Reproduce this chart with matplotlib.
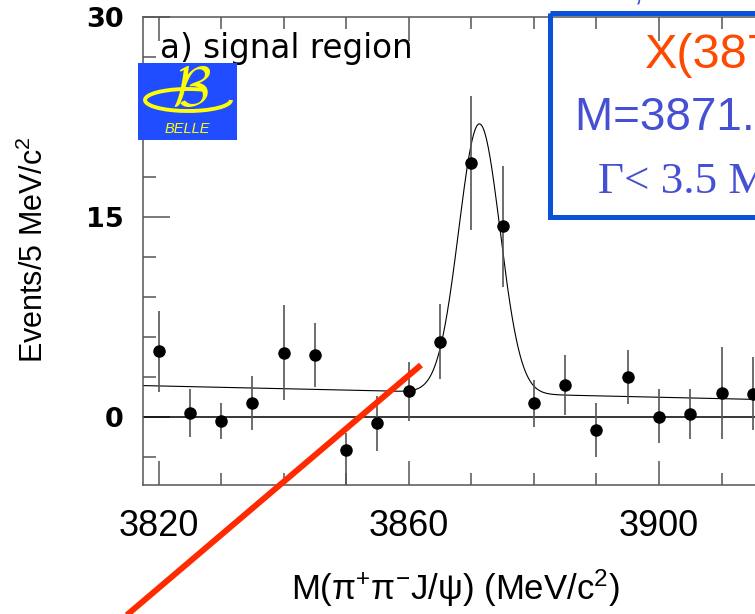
import numpy as np
import matplotlib
matplotlib.use("Agg")
import matplotlib.pyplot as plt
from matplotlib.patches import Rectangle, Arc
from matplotlib.ticker import MultipleLocator

# ---------------- data ----------------
mass = [3820, 3825, 3830, 3835, 3840, 3845, 3850, 3855, 3860, 3865,
        3870, 3875, 3880, 3885, 3890, 3895, 3900, 3905, 3910, 3915]
events = [4.96, 0.32, -0.27, 1.02, 4.83, 4.66, -2.47, -0.47, 1.94, 5.63,
          19.05, 14.3, 1.02, 2.39, -0.97, 3.01, 0.02, 0.22, 1.82, 1.72]
err_low = [3.05, 1.8, 1.35, 2.0, 3.55, 2.4, 2.8, 2.05, 2.25, 2.75,
           5.05, 4.55, 1.75, 2.25, 2.0, 2.05, 2.0, 1.9, 3.45, 2.7]
err_high = [3.0, 1.8, 1.35, 2.05, 3.55, 2.4, 1.3, 2.05, 2.2, 2.85,
            5.05, 4.5, 1.75, 2.25, 2.05, 2.05, 2.05, 1.85, 3.4, 2.75]

# fit model parameters (Gaussian signal on a linear background)
fit_mass = 3871.3
fit_sigma = 3.3
fit_amp = 20.2
bg_at_3820 = 2.33
bg_slope = -0.0106

x_major_ticks = [3820, 3860, 3900]
x_tick_labels = ["3820", "3860", "3900"]
y_major_ticks = [0, 15, 30]
y_tick_labels = ["0", "15", "30"]

# ---------------- fonts ----------------
plt.rcParams["mathtext.fontset"] = "custom"
plt.rcParams["mathtext.rm"] = "Liberation Sans"
plt.rcParams["mathtext.it"] = "Liberation Sans:italic"
plt.rcParams["mathtext.bf"] = "Liberation Sans:bold"

W, H = 755, 614
fig = plt.figure(figsize=(W / 100, H / 100), dpi=100)
fig.patch.set_facecolor("white")

# axes geometry (pixels)
ax_left, ax_top, ax_bottom, ax_right = 143, 17, 485, 800
px_per_mev = (659 - 158.5) / 80.0
x_lo = 3820 - (158.5 - ax_left) / px_per_mev
x_hi = 3820 + (ax_right - 158.5) / px_per_mev

ax = fig.add_axes([ax_left / W, 1 - ax_bottom / H,
                   (ax_right - ax_left) / W, (ax_bottom - ax_top) / H])
ax.set_xlim(x_lo, x_hi)
ax.set_ylim(-5.1, 30)

gray = "#555555"
ax.axhline(0, color="black", lw=1.1, zorder=2)

m = np.linspace(x_lo, x_hi, 1500)
curve = bg_at_3820 + bg_slope * (m - 3820) + fit_amp * np.exp(-0.5 * ((m - fit_mass) / fit_sigma) ** 2)
ax.plot(m, curve, color="black", lw=0.8, zorder=2)

ax.errorbar(mass, events, yerr=[err_low, err_high], fmt="o", color="black",
            ms=8, ecolor=gray, elinewidth=1.2, capsize=0, zorder=3)

for s in ax.spines.values():
    s.set_color(gray)
    s.set_linewidth(1.1)

ax.set_xticks(x_major_ticks, labels=x_tick_labels, fontsize=26, fontfamily="Liberation Sans")
ax.set_yticks(y_major_ticks, labels=y_tick_labels, fontsize=19.5, fontfamily="DejaVu Sans",
              fontweight="bold")
ax.xaxis.set_minor_locator(MultipleLocator(10))
ax.yaxis.set_minor_locator(MultipleLocator(3))
ax.tick_params(which="both", direction="in", top=True, right=True, color=gray, width=1.1)
ax.tick_params(axis="x", which="major", length=17, pad=17)
ax.tick_params(axis="x", which="minor", length=8.5)
ax.tick_params(axis="y", which="major", length=19.5, pad=14)
ax.tick_params(axis="y", which="minor", length=9.5)

# axis titles
fig.text(34 / W, 1 - 250 / H, r"Events/5 MeV/c$^{2}$", rotation=90, ha="center", va="center",
         fontsize=22, family="Liberation Sans")
fig.text(455 / W, 1 - 600 / H, "M(\u03c0$^{+}$\u03c0$^{-}$J/\u03c8) (MeV/c$^{2}$)", ha="center",
         va="baseline", fontsize=25, family="Liberation Sans")

# ---------------- overlay (annotations in pixel coordinates) ----------------
ov = fig.add_axes([0, 0, 1, 1], zorder=5)
ov.set_xlim(0, W)
ov.set_ylim(H, 0)
ov.axis("off")

ov.text(160, 58, "a) signal region", fontsize=23.5, family="DejaVu Sans", va="baseline")

ov.plot([121, 421], [620, 365], color="#ff2a00", lw=4.3, solid_capstyle="butt")

ov.add_patch(Rectangle((550, 13), 400, 204, fill=False, edgecolor="#0a50d8", lw=3.6))
ov.text(645, 68, "X(3872)", color="#ff4800", fontsize=35, family="Liberation Sans", va="baseline")
ov.text(575, 130, "M=3871.8 MeV", color="#4650d2", fontsize=33, family="Liberation Sans",
        va="baseline")
ov.text(598, 193, "\u0393< 3.5 MeV", color="#4650d2", fontsize=32.5, family="Liberation Serif",
        va="baseline")
ov.text(560, 0, "Belle, PRL 91, 262001", color="#4650d2", fontsize=24, family="Liberation Sans",
        va="baseline")

# ---------------- Belle logo ----------------
la = fig.add_axes([138 / W, 1 - 140 / H, 99 / W, 77 / H], zorder=6)
la.set_xlim(0, 99)
la.set_ylim(77, 0)
la.axis("off")
la.add_patch(Rectangle((0, 0), 99, 77, color="#1f4dff"))
la.add_patch(Arc((50, 37), 86, 22, theta1=0, theta2=330, color="#ffff00", lw=2.8))
la.text(53, 28, r"$\mathcal{B}$", math_fontfamily="cm", color="#ffff00", fontsize=40,
        ha="center", va="center")
la.text(49, 66, "BELLE", style="italic", family="Liberation Sans", fontsize=10.5,
        color="#ffff00", ha="center", va="center")

fig.savefig("out.png", dpi=100)
